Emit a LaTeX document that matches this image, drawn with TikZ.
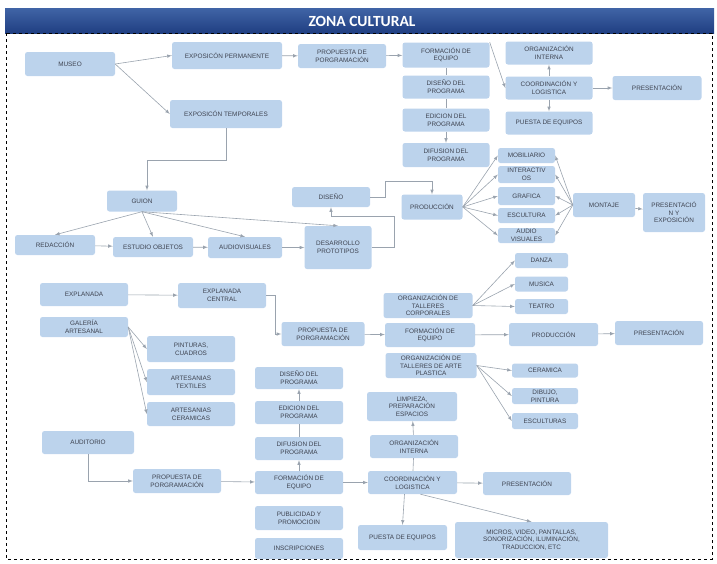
\documentclass[tikz,border=0pt]{standalone}
\usepackage{fontspec}
\setmainfont{Liberation Sans}
\newfontfamily\titlefont{Carlito}
\usetikzlibrary{arrows,positioning}
\definecolor{boxblue}{HTML}{BCD3EC}
\definecolor{linegray}{HTML}{9AA3AE}
\definecolor{txtgray}{HTML}{3E4350}
\definecolor{titletop}{HTML}{4064A6}
\definecolor{titlebot}{HTML}{203F82}
\tikzset{zbox/.style={fill=boxblue,rounded corners=2.5pt,align=center,inner sep=1pt,text=txtgray,font=\fontsize{6.4}{7.6}\selectfont}}
\tikzset{wh/.style 2 args={minimum width=#1,minimum height=#2}}
\tikzset{conn/.style={draw=linegray,line width=0.6pt,>=latex}}

\begin{document}
\begin{tikzpicture}[x=1pt,y=-1pt]
% \draw[help lines] (0,0) grid (717,563);
\useasboundingbox (0,0) rectangle (717,563);
\shade[top color=titletop,bottom color=titlebot] (5,8) rectangle (714,33);
\node (titulo) [text=white,font=\titlefont\bfseries\fontsize{15.5}{17}\selectfont] at (362,21) {ZONA CULTURAL};
\draw[dashed,line width=0.8pt] (6,33) rectangle (712,559);
%
\node (museo) [zbox,wh={90}{24}] at (70,64) {MUSEO};
\node (expperm) [zbox,wh={110}{27}] at (227,55.5) {EXPOSICÓN PERMANENTE};
\node (prop1) [zbox,wh={88}{24}] at (342,56) {PROPUESTA DE\\PORGRAMACIÓN};
\node (form1) [zbox,wh={87}{25}] at (446,55) {FORMACIÓN DE\\EQUIPO};
\node (disprog1) [zbox,wh={87}{23}] at (446,87) {DISEÑO DEL\\PROGRAMA};
\node (edprog1) [zbox,wh={87}{23}] at (446,120) {EDICION DEL\\PROGRAMA};
\node (difprog1) [zbox,wh={87}{24}] at (446,155) {DIFUSION DEL\\PROGRAMA};
\node (orgint1) [zbox,wh={87}{23}] at (549,53) {ORGANIZACIÓN\\INTERNA};
\node (coord1) [zbox,wh={87}{23}] at (549,88) {COORDINACIÓN Y\\LOGISTICA};
\node (puesta1) [zbox,wh={87}{23}] at (549,123) {PUESTA DE EQUIPOS};
\node (pres1) [zbox,wh={89}{24}] at (657,88) {PRESENTACIÓN};
\node (exptemp) [zbox,wh={112}{28}] at (226,114) {EXPOSICÓN TEMPORALES};
\node (guion) [zbox,wh={70}{21}] at (142,201) {GUION};
\node (redaccion) [zbox,wh={80}{20}] at (55,245) {REDACCIÓN};
\node (estudio) [zbox,wh={80}{20}] at (153,247) {ESTUDIO OBJETOS};
\node (audiovis) [zbox,wh={74}{21}] at (245,247.5) {AUDIOVISUALES};
\node (desarrollo) [zbox,wh={67}{43}] at (338,247.5) {DESARROLLO\\PROTOTIPOS};
\node (diseno) [zbox,wh={78}{20}] at (331,197) {DISEÑO};
\node (produccion) [zbox,wh={61}{25}] at (432,207) {PRODUCCIÓN};
\node (mobiliario) [zbox,wh={57}{15}] at (526.5,155.5) {MOBILIARIO};
\node (interact) [zbox,wh={57}{17}] at (526.5,174.5) {INTERACTIV\\OS};
\node (grafica) [zbox,wh={57}{18}] at (526.5,196) {GRAFICA};
\node (escultura) [zbox,wh={57}{15}] at (526.5,215.5) {ESCULTURA};
\node (audio) [zbox,wh={57}{15}] at (526.5,235.5) {AUDIO\\VISUALES};
\node (montaje) [zbox,wh={62}{24}] at (604,205) {MONTAJE};
\node (presexp) [zbox,wh={62}{39}] at (674,212.5) {PRESENTACIÓ\\N Y\\EXPOSICIÓN};
%
\node (explanada) [zbox,wh={88}{23}] at (84,294.5) {EXPLANADA};
\node (expcentral) [zbox,wh={88}{25}] at (222,295.5) {EXPLANADA\\CENTRAL};
\node (galeria) [zbox,wh={88}{20}] at (84,327) {GALERÍA\\ARTESANAL};
\node (pinturas) [zbox,wh={88}{26}] at (191,349) {PINTURAS,\\CUADROS};
\node (textiles) [zbox,wh={88}{26}] at (191,382) {ARTESANIAS\\TEXTILES};
\node (ceramicas) [zbox,wh={88}{24}] at (191,414) {ARTESANIAS\\CERAMICAS};
\node (prop2) [zbox,wh={83}{24}] at (323,334) {PROPUESTA DE\\PORGRAMACIÓN};
\node (corporales) [zbox,wh={89}{25}] at (428,305.5) {ORGANIZACIÓN DE\\TALLERES\\CORPORALES};
\node (form2) [zbox,wh={90}{24}] at (430,335) {FORMACIÓN DE\\EQUIPO};
\node (plastica) [zbox,wh={91}{25}] at (431,365.5) {ORGANIZACIÓN DE\\TALLERES DE ARTE\\PLASTICA};
\node (danza) [zbox,wh={53}{15}] at (541.5,260.5) {DANZA};
\node (musica) [zbox,wh={53}{15}] at (541.5,284) {MUSICA};
\node (teatro) [zbox,wh={53}{15}] at (541.5,306.5) {TEATRO};
\node (prod2) [zbox,wh={89}{23}] at (553.5,334.5) {PRODUCCIÓN};
\node (pres2) [zbox,wh={88}{24}] at (659,333) {PRESENTACIÓN};
\node (ceramica) [zbox,wh={66}{14}] at (545,370.5) {CERAMICA};
\node (dibujo) [zbox,wh={66}{16}] at (545,396) {DIBUJO,\\PINTURA};
\node (esculturas) [zbox,wh={66}{16}] at (545,421) {ESCULTURAS};
%
\node (disprog3) [zbox,wh={88}{22}] at (299,378) {DISEÑO DEL\\PROGRAMA};
\node (edprog3) [zbox,wh={88}{23}] at (299,412.5) {EDICION DEL\\PROGRAMA};
\node (difprog3) [zbox,wh={88}{23}] at (299,448.5) {DIFUSION DEL\\PROGRAMA};
\node (form3) [zbox,wh={88}{23}] at (299,482.5) {FORMACIÓN DE\\EQUIPO};
\node (publicidad) [zbox,wh={88}{24}] at (299,518) {PUBLICIDAD Y\\PROMOCIOIN};
\node (inscrip) [zbox,wh={88}{21}] at (299,548.5) {INSCRIPCIONES};
\node (auditorio) [zbox,wh={92}{23}] at (88,442.5) {AUDITORIO};
\node (prop3) [zbox,wh={88}{24}] at (177,481) {PROPUESTA DE\\PORGRAMACIÓN};
\node (coord3) [zbox,wh={89}{23}] at (412.5,482.5) {COORDINACIÓN Y\\LOGISTICA};
\node (orgint3) [zbox,wh={88}{23}] at (414,446.5) {ORGANIZACIÓN\\INTERNA};
\node (limpieza) [zbox,wh={90}{29}] at (412,406.5) {LIMPIEZA,\\PREPARACIÓN\\ESPACIOS};
\node (pres3) [zbox,wh={88}{23}] at (527,483.5) {PRESENTACIÓN};
\node (puesta3) [zbox,wh={89}{25}] at (402.5,537.5) {PUESTA DE EQUIPOS};
\node (micros) [zbox,wh={153}{36}] at (531.5,540) {MICROS, VIDEO, PANTALLAS,\\SONORIZACIÓN, ILUMINACIÓN,\\TRADUCCION, ETC};
%
\draw[conn,->] (museo.east) -- (expperm.west);
\draw[conn,->] (museo.east) -- (exptemp.west);
\draw[conn,->] (expperm) -- (prop1);
\draw[conn,->] (prop1) -- (form1);
\draw[conn] (form1) -- (disprog1);
\draw[conn] (disprog1) -- (edprog1);
\draw[conn,->] (edprog1) -- (difprog1);
\draw[conn,->] (form1.north east) -- (coord1.west);
\draw[conn,->] (coord1) -- (orgint1);
\draw[conn,->] (coord1) -- (puesta1);
\draw[conn,->] (coord1) -- (pres1);
\draw[conn,->] (exptemp.south) -- ++(0,32) -| ([xshift=5pt]guion.north);
\foreach \n in {redaccion,estudio,audiovis,desarrollo}
  \draw[conn,->] (guion.south) -- (\n.north);
\draw[conn,->] (redaccion) -- (estudio);
\draw[conn,->] (estudio) -- (audiovis);
\draw[conn,->] (audiovis) -- (desarrollo);
\draw[conn,->] (desarrollo.east) -| ++(23,-31) -| (diseno.south);
\draw[conn,->] (diseno.east) -| ++(15,-16) -| (produccion.north);
\foreach \n in {mobiliario,interact,grafica,escultura,audio}{
  \draw[conn,->] (produccion.east) -- (\n.west);
  \draw[conn,->] (montaje.west) -- (\n.east);
}
\draw[conn,->] (montaje) -- (presexp);
%
\draw[conn,->] (explanada) -- (expcentral);
\draw[conn,->] (expcentral.east) -- ++(9,0) |- (prop2.west);
\foreach \n in {pinturas,textiles,ceramicas}
  \draw[conn,->] (galeria.east) -- (\n.west);
\draw[conn,->] (prop2) -- (form2);
\draw[conn,->] (form2) -- (prod2);
\draw[conn,->] (prod2) -- (pres2);
\foreach \n in {danza,musica,teatro}
  \draw[conn,->] (corporales.east) -- (\n.west);
\foreach \n in {ceramica,dibujo,esculturas}
  \draw[conn,->] (plastica.east) -- (\n.west);
%
\draw[conn,->] (edprog3) -- (disprog3);
\draw[conn] (difprog3) -- (edprog3);
\draw[conn,->] (form3) -- (difprog3);
\draw[conn,->] (auditorio.south) |- (prop3.west);
\draw[conn,->] (prop3) -- (form3);
\draw[conn,->] (form3) -- (coord3);
\draw[conn] (coord3) -- (orgint3);
\draw[conn,->] (orgint3) -- (limpieza);
\draw[conn,->] (coord3) -- (pres3);
\draw[conn,->] ([xshift=-8pt]coord3.south) -- (puesta3.north);
\draw[conn,->] ([xshift=8pt]coord3.south) -- (micros.north);
\end{tikzpicture}
\end{document}
